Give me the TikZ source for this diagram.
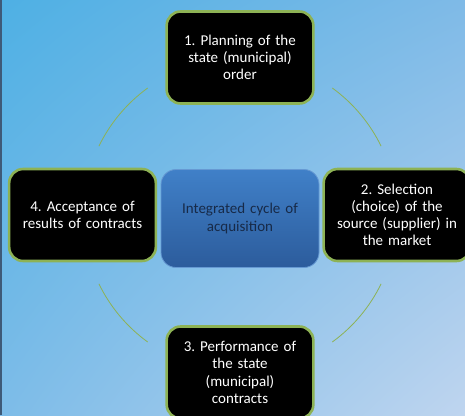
\documentclass[tikz,border=0pt]{standalone}
\usepackage{fontspec}
\usetikzlibrary{shadings}
\setmainfont{Carlito}
\frenchspacing
\definecolor{bgtl}{HTML}{4EB0E4}
\definecolor{bgtr}{HTML}{7FBAE7}
\definecolor{bgbl}{HTML}{7DBCE8}
\definecolor{bgbr}{HTML}{BFD5EF}
\definecolor{ringgreen}{HTML}{8DB255}
\definecolor{hubtop}{HTML}{4080C8}
\definecolor{hubbot}{HTML}{2C5C9C}
\definecolor{hubtext}{HTML}{172A48}
\definecolor{edgegray}{HTML}{3E5A78}
\tikzset{
	stagebox/.style={draw=ringgreen, line width=2.6pt, fill=black, rounded corners=14pt,
		minimum width=143pt, minimum height=92pt, text width=140pt, align=center,
		text=white, font=\fontsize{15}{17.2}\selectfont},
	hubbox/.style={draw=hubtop!80!white, line width=0.8pt, rounded corners=15pt,
		top color=hubtop, bottom color=hubbot, minimum width=158pt, minimum height=98pt,
		text width=150pt, align=center, text=hubtext, font=\fontsize{15}{18.5}\selectfont},
	ring/.style={draw=ringgreen, line width=0.8pt}
}
\begin{document}
\begin{tikzpicture}[x=1pt,y=1pt]
	\useasboundingbox (0,0) rectangle (465,-415);
	\clip (0,0) rectangle (465,-415);
	% background
	\shade[upper left=bgtl, upper right=bgtr, lower left=bgbl, lower right=bgbr] (0,0) rectangle (465,-415);
	\fill[edgegray] (0,0) rectangle (2,-415);
	% ring between the stages
	\coordinate (ringc) at (240,-215);
	\draw[ring] ([shift={(126:157)}]ringc) arc (126:154:157);
	\draw[ring] ([shift={(26:157)}]ringc) arc (26:54:157);
	\draw[ring] ([shift={(-54:157)}]ringc) arc (-54:-26:157);
	\draw[ring] ([shift={(206:157)}]ringc) arc (206:234:157);
	% stages
	\node[hubbox] (hub) at (240,-218.5) {Integrated cycle of\\acquisition};
	\node[stagebox] (plan) at (240,-57.5) {1. Planning of the\\state (municipal)\\order};
	\node[stagebox] (select) at (397,-215) {2. Selection\\(choice) of the\\source (supplier) in\\the market};
	\node[stagebox] (perform) at (240,-372.5) {3. Performance of\\the state\\(municipal)\\contracts};
	\node[stagebox] (accept) at (82.5,-215) {4. Acceptance of\\results of contracts};
\end{tikzpicture}
\end{document}
